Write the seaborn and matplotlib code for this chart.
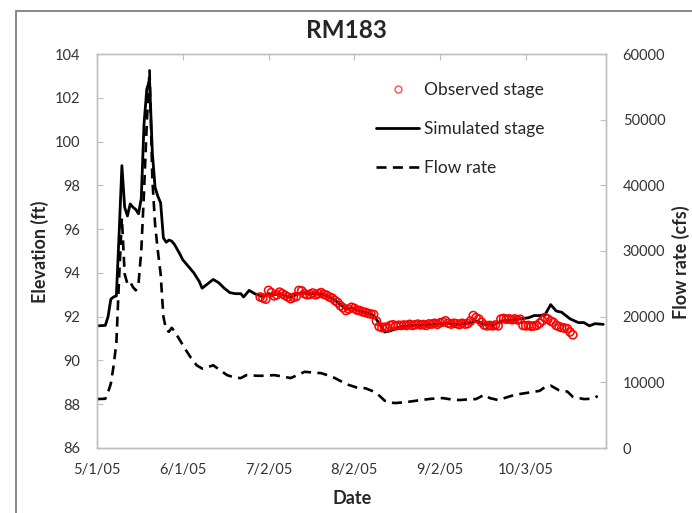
import numpy as np
import pandas as pd
import matplotlib
matplotlib.use("Agg")
import matplotlib.pyplot as plt
from matplotlib.lines import Line2D
from matplotlib.patches import Rectangle
import seaborn as sns

# ---------------- data (day offsets from 2005-05-01) ----------------
start = pd.Timestamp("2005-05-01")

sim_day = [0, 3, 4, 5, 6, 7, 8, 9, 10, 11, 12, 13, 14, 15, 16, 17, 18, 19, 20, 21,
           22, 23, 24, 25, 26, 27, 28, 30, 31, 33, 35, 37, 38, 40, 42, 44, 46, 48, 50, 52,
           53, 55, 57, 60, 62, 64, 66, 68, 70, 72, 74, 76, 78, 80, 82, 84, 86, 88, 90, 92,
           94, 96, 98, 100, 102, 104, 106, 108, 110, 114, 118, 122, 126, 130, 134, 137, 140, 143, 146, 150,
           153, 156, 158, 160, 162, 164, 166, 168, 171, 174, 176, 178, 180, 183]
sim_ft = [91.58, 91.6, 92.0, 92.8, 92.9, 92.95, 95.8, 98.9, 97.0, 96.6, 97.15, 97.0, 96.9, 96.7, 97.4, 100.8, 102.4, 102.8, 99.5, 97.9,
          97.5, 97.2, 95.6, 95.4, 95.5, 95.45, 95.3, 94.85, 94.6, 94.3, 94.0, 93.6, 93.3, 93.5, 93.7, 93.55, 93.3, 93.1, 93.05, 93.05,
          92.9, 93.2, 93.05, 92.9, 93.05, 93.0, 93.05, 92.95, 92.9, 93.0, 93.1, 93.05, 93.05, 93.05, 93.0, 92.9, 92.75, 92.55, 92.35, 92.4,
          92.3, 92.22, 92.15, 92.05, 91.7, 91.3, 91.35, 91.45, 91.55, 91.6, 91.62, 91.65, 91.7, 91.65, 91.7, 91.8, 91.65, 91.6, 91.8, 91.85,
          91.9, 91.95, 92.05, 92.05, 92.1, 92.55, 92.26, 92.2, 91.9, 91.73, 91.73, 91.58, 91.68, 91.65]

obs_day = list(range(59, 173))
obs_ft = [92.9, 92.85, 92.8, 93.2, 93.1, 92.95, 93.0, 93.12, 93.05, 92.97, 92.9, 92.82, 92.88, 92.92,
          93.2, 93.18, 93.05, 93.0, 93.02, 93.08, 93.0, 93.05, 93.1, 93.02, 92.98, 92.9, 92.85,
          92.74, 92.65, 92.5, 92.4, 92.28, 92.35, 92.43, 92.38, 92.3, 92.28, 92.22, 92.2, 92.15, 92.12, 92.1,
          91.8, 91.55, 91.5, 91.52, 91.5, 91.6, 91.63, 91.58, 91.61, 91.6,
          91.62, 91.6, 91.65, 91.6, 91.63, 91.66, 91.62, 91.64, 91.6, 91.67, 91.66, 91.7, 91.65, 91.72, 91.75,
          91.81, 91.7, 91.66, 91.7, 91.68, 91.64, 91.7, 91.66, 91.68, 91.8,
          92.05, 91.95, 91.89, 91.75, 91.62, 91.58, 91.6, 91.58, 91.62, 91.58, 91.89, 91.92, 91.88, 91.9, 91.86,
          91.9, 91.85, 91.88, 91.6, 91.58, 91.6, 91.56, 91.58, 91.6, 91.7, 91.82, 91.95, 91.89, 91.8, 91.74,
          91.6, 91.55, 91.5, 91.48, 91.45, 91.3, 91.17]

flow_day = [0, 3, 4, 5, 6, 7, 8, 9, 10, 11, 12, 13, 14, 15, 16, 17, 18, 19, 20, 21,
            22, 23, 24, 25, 26, 27, 28, 30, 32, 34, 36, 38, 40, 42, 44, 47, 50, 52, 54, 58,
            61, 64, 67, 70, 73, 75, 78, 81, 84, 86, 88, 91, 94, 97, 100, 102, 104, 106, 108, 112,
            117, 121, 125, 128, 131, 134, 137, 140, 142, 145, 148, 151, 154, 157, 160, 162, 164, 167, 170, 172,
            176, 179, 181]
flow_cfs = [7450, 7500, 8500, 9800, 12500, 16000, 26000, 35000, 26500, 25000, 25300, 24500, 24000, 25000, 30000, 39000, 49500, 57500, 41000, 34000,
            30000, 26500, 20000, 18000, 17700, 18300, 17800, 16400, 15000, 13700, 12600, 12100, 12300, 12600, 12000, 11100, 10700, 10650, 11100, 11000,
            11000, 11100, 10900, 10650, 11200, 11600, 11500, 11400, 11000, 10650, 10200, 9600, 9200, 9100, 8600, 8000, 7200, 6900, 6850, 7000,
            7300, 7500, 7600, 7400, 7300, 7400, 7450, 8100, 7600, 7300, 7700, 8100, 8300, 8500, 8700, 9300, 9500, 8800, 8600, 7800,
            7450, 7500, 7900]

tick_days = [0, 31, 62, 93, 124, 155]
tick_labels = ["5/1/05", "6/1/05", "7/2/05", "8/2/05", "9/2/05", "10/3/05"]

def to_dates(days):
    return start + pd.to_timedelta(days, unit="D")

sim_df = pd.DataFrame({"date": to_dates(sim_day), "elev": sim_ft})
obs_df = pd.DataFrame({"date": to_dates(obs_day), "elev": obs_ft})
flow_df = pd.DataFrame({"date": to_dates(flow_day), "flow": flow_cfs})

# ---------------- figure ----------------
sns.set_style("white")
plt.rcParams["font.family"] = ["Lato", "DejaVu Sans"]

W, H = 692, 513
fig = plt.figure(figsize=(W / 100, H / 100), dpi=100)
ax = fig.add_axes([97 / W, 1 - 448 / H, (606 - 97) / W, (448 - 54) / H])
ax2 = ax.twinx()

sns.lineplot(data=sim_df, x="date", y="elev", ax=ax, color="black", linewidth=2.0, zorder=2)
sns.scatterplot(data=obs_df, x="date", y="elev", ax=ax, marker="o", s=34,
                facecolor="none", edgecolor="#FF0000", linewidth=1.1, zorder=3)
sns.lineplot(data=flow_df, x="date", y="flow", ax=ax2, color="black", linewidth=1.9)
for ln in ax2.lines:
    ln.set_dashes([3.8, 2.4])

grey = "#BFBFBF"
ax.set_xlim(start, start + pd.Timedelta(days=184))
ax.set_ylim(86, 104)
ax.set_yticks(np.arange(86, 105, 2))
ax2.set_ylim(0, 60000)
ax2.set_yticks(np.arange(0, 60001, 10000))
ax.set_xticks(to_dates(tick_days))
ax.set_xticklabels(tick_labels)

for a in (ax, ax2):
    for s in a.spines.values():
        s.set_color(grey)
        s.set_linewidth(1.0)
lab_col = "#333333"
ax.tick_params(axis="y", direction="in", length=4, color=grey, labelsize=10.5, pad=12, labelcolor=lab_col)
ax.tick_params(axis="x", direction="in", length=4, color=grey, labelsize=10.5, pad=11, labelcolor=lab_col,
               top=True)
ax2.tick_params(axis="y", direction="in", length=4, color=grey, labelsize=10.5, pad=12, labelcolor=lab_col)

ax.set_xlabel("")
ax.set_ylabel("")
ax2.set_ylabel("")

fig.text(346 / W, 1 - 31 / H, "RM183", ha="center", va="center", fontsize=17.5, fontweight="bold")
fig.text(352 / W, 1 - 498 / H, "Date", ha="center", va="center", fontsize=13, fontweight="bold")
fig.text(40 / W, 1 - 252 / H, "Elevation (ft)", ha="center", va="center", rotation=90,
         fontsize=13, fontweight="bold")
fig.text(681 / W, 1 - 262 / H, "Flow rate (cfs)", ha="center", va="center", rotation=90,
         fontsize=13, fontweight="bold")

handles = [
    Line2D([], [], linestyle="none", marker="o", markersize=5, markerfacecolor="none",
           markeredgecolor="#FF4040", markeredgewidth=0.9),
    Line2D([], [], color="black", linewidth=2.0),
    Line2D([], [], color="black", linewidth=1.9, dashes=[3.8, 2.4]),
]
fig.legend(handles, ["Observed stage", "Simulated stage", "Flow rate"],
           loc="upper left", bbox_to_anchor=(376 / W, 1 - 82 / H), frameon=False,
           fontsize=12.5, handlelength=2.5, handletextpad=0.25, labelspacing=1.32,
           borderpad=0, borderaxespad=0)

# outer chart border
fig.patches.append(Rectangle((16 / W, -0.2), 2, 1.2 - 11 / H, transform=fig.transFigure,
                             fill=False, edgecolor="#7F7F7F", linewidth=1.3))

fig.savefig("out.png", dpi=100)
